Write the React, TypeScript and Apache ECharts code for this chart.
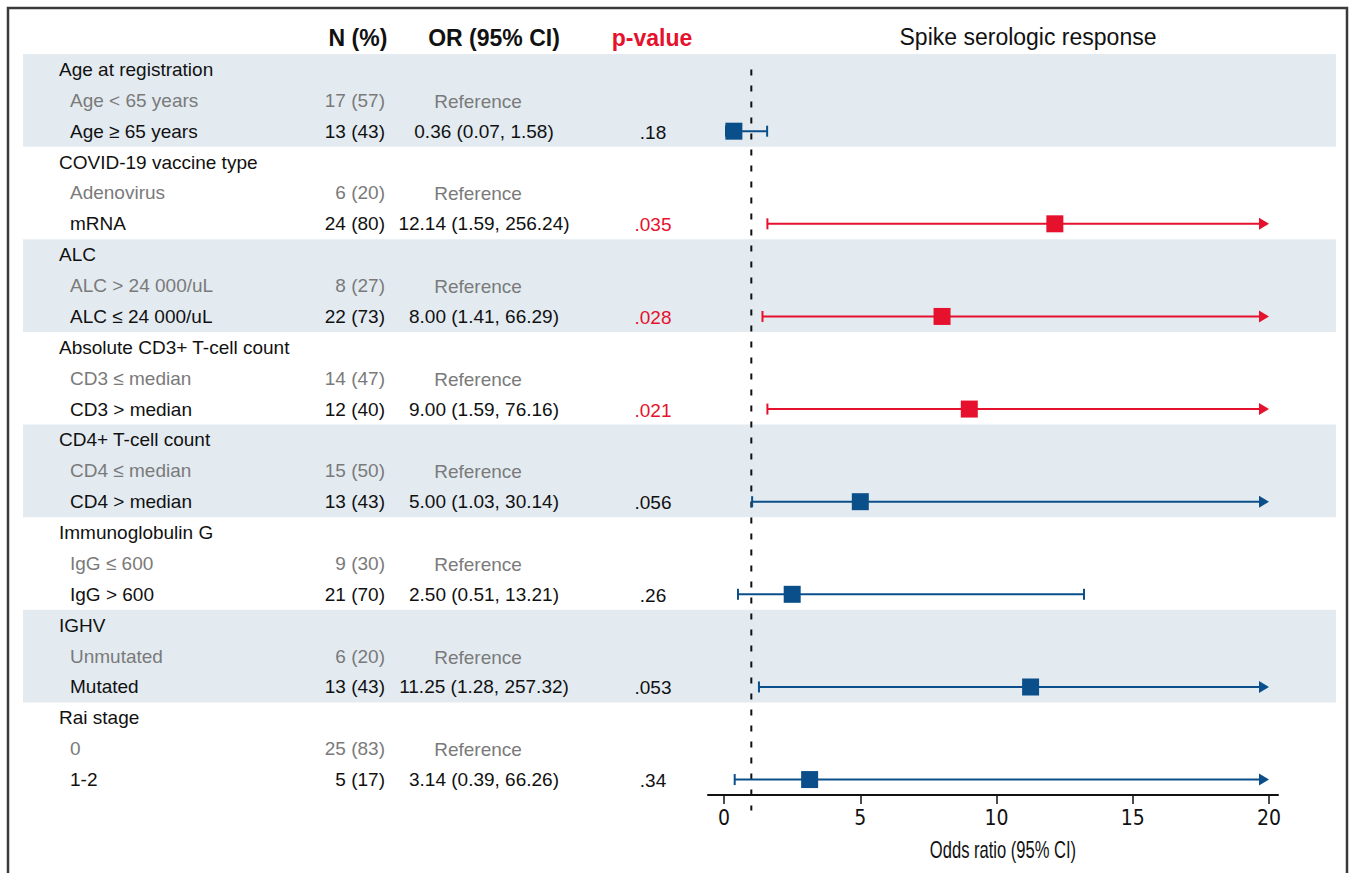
import React, { useEffect, useRef } from "react";
import * as echarts from "echarts";

// ---------- data ----------
const groupNames = [
  "Age at registration",
  "COVID-19 vaccine type",
  "ALC",
  "Absolute CD3+ T-cell count",
  "CD4+ T-cell count",
  "Immunoglobulin G",
  "IGHV",
  "Rai stage",
];
const refLabels = [
  "Age < 65 years",
  "Adenovirus",
  "ALC > 24 000/uL",
  "CD3 ≤ median",
  "CD4 ≤ median",
  "IgG ≤ 600",
  "Unmutated",
  "0",
];
const compLabels = [
  "Age ≥ 65 years",
  "mRNA",
  "ALC ≤ 24 000/uL",
  "CD3 > median",
  "CD4 > median",
  "IgG > 600",
  "Mutated",
  "1-2",
];
const refN = ["17 (57)", "6 (20)", "8 (27)", "14 (47)", "15 (50)", "9 (30)", "6 (20)", "25 (83)"];
const compN = ["13 (43)", "24 (80)", "22 (73)", "12 (40)", "13 (43)", "21 (70)", "13 (43)", "5 (17)"];
const orValues = [0.36, 12.14, 8.0, 9.0, 5.0, 2.5, 11.25, 3.14];
const ciLower = [0.07, 1.59, 1.41, 1.59, 1.03, 0.51, 1.28, 0.39];
const ciUpper = [1.58, 256.24, 66.29, 76.16, 30.14, 13.21, 257.32, 66.26];
const pValues = [0.18, 0.035, 0.028, 0.021, 0.056, 0.26, 0.053, 0.34];
const xTicks = [0, 5, 10, 15, 20];
const plotMax = 20;
const nullOR = 1;
const headers = { n: "N (%)", or: "OR (95% CI)", p: "p-value", title: "Spike serologic response" };
const axisTitle = "Odds ratio (95% CI)";

// ---------- styles ----------
const BLUE = "#0b4f8a";
const RED = "#e5112d";
const GRAY = "#7a7a7a";
const BLACK = "#111111";
const BAND = "#e3ebf1";
const SANS = '"Liberation Sans", Arial, Helvetica, sans-serif';
const COND = '"DejaVu Sans Condensed", "Liberation Sans Narrow", sans-serif';

type Row = {
  kind: "group" | "ref" | "comp";
  label: string;
  n?: string;
  or?: string;
  p?: string;
  sig?: boolean;
};

const fmtP = (p: number) => p.toString().replace(/^0/, "");
const rows: Row[] = [];
groupNames.forEach((g, i) => {
  rows.push({ kind: "group", label: g });
  rows.push({ kind: "ref", label: refLabels[i], n: refN[i], or: "Reference" });
  rows.push({
    kind: "comp",
    label: compLabels[i],
    n: compN[i],
    or: `${orValues[i].toFixed(2)} (${ciLower[i].toFixed(2)}, ${ciUpper[i].toFixed(2)})`,
    p: fmtP(pValues[i]),
    sig: pValues[i] < 0.05,
  });
});
const ROWS_PER_GROUP = 3;
const bandGroups = groupNames.map((_, i) => i).filter((i) => i % 2 === 0);

export default function App() {
  const ref = useRef<HTMLDivElement>(null);
  useEffect(() => {
    document.body.style.margin = "0";
    const chart = echarts.init(ref.current!, null, { renderer: "svg" });

    const txt = (text: string, x: number, y: number, align: string, color: string, font: string, extra: any = {}) => ({
      type: "text",
      x,
      y,
      ...extra,
      style: {
        text,
        fill: color,
        font,
        align,
        textAlign: align,
        verticalAlign: "middle",
        textVerticalAlign: "middle",
      },
    });

    const bodyFont = `19px ${SANS}`;
    const yMin = -0.5;
    const yMax = rows.length - 0.5;

    const option: any = {
      animation: false,
      backgroundColor: "#ffffff",
      grid: [
        { left: 23, right: 15, top: 54, height: 741 },
        { left: 708, right: 73, top: 54, height: 741 },
      ],
      xAxis: [
        { gridIndex: 0, type: "value", min: 0, max: 1, show: false },
        {
          gridIndex: 1,
          type: "value",
          min: -0.59,
          max: 20.33,
          axisLine: { show: true, onZero: false, lineStyle: { color: BLACK, width: 2 } },
          axisTick: { show: true, customValues: xTicks, length: 9, lineStyle: { color: BLACK, width: 1.5 } },
          axisLabel: { customValues: xTicks, color: BLACK, fontSize: 21, fontFamily: COND, margin: 12 },
          splitLine: { show: false },
        },
      ],
      yAxis: [
        { gridIndex: 0, type: "value", inverse: true, min: yMin, max: yMax, show: false, axisLine: { onZero: false } },
        { gridIndex: 1, type: "value", inverse: true, min: yMin, max: yMax, show: false, axisLine: { onZero: false } },
      ],
      graphic: [
        {
          type: "rect",
          shape: { x: 8, y: 8, width: 1339, height: 900 },
          style: { fill: "none", stroke: "#3a3a3a", lineWidth: 2.5 },
          z: 100,
        },
        txt(headers.n, 358, 38, "center", BLACK, `bold 23px ${SANS}`),
        txt(headers.or, 494, 38, "center", BLACK, `bold 23px ${SANS}`),
        txt(headers.p, 652, 38, "center", RED, `bold 23px ${SANS}`),
        txt(headers.title, 1028, 37, "center", BLACK, `23px ${SANS}`),
        txt(axisTitle, 1003, 850, "center", BLACK, `23px ${SANS}`, { scaleX: 0.72, originX: 0, originY: 0 }),
      ],
      series: [
        {
          type: "custom",
          name: "bands",
          xAxisIndex: 0,
          yAxisIndex: 0,
          z: 0,
          silent: true,
          data: bandGroups.map((g) => [0, g * ROWS_PER_GROUP - 0.5, (g + 1) * ROWS_PER_GROUP - 0.5]),
          encode: { x: 0, y: [1, 2] },
          renderItem: (params: any, api: any) => {
            const top = api.coord([0, api.value(1)])[1];
            const bottom = api.coord([0, api.value(2)])[1];
            const cs = params.coordSys;
            return {
              type: "rect",
              shape: { x: cs.x, y: top, width: cs.width, height: bottom - top },
              style: { fill: BAND },
            };
          },
        },
        {
          type: "custom",
          name: "table",
          xAxisIndex: 0,
          yAxisIndex: 0,
          z: 2,
          silent: true,
          data: rows.map((_, i) => [0, i]),
          encode: { x: 0, y: 1 },
          renderItem: (params: any, api: any) => {
            const r = rows[params.dataIndex];
            const y = api.coord([0, api.value(1)])[1];
            const children: any[] = [];
            if (r.kind === "group") {
              children.push(txt(r.label, 59, y, "left", BLACK, bodyFont));
            } else if (r.kind === "ref") {
              children.push(txt(r.label, 70, y, "left", GRAY, bodyFont));
              children.push(txt(r.n!, 385, y, "right", GRAY, bodyFont));
              children.push(txt(r.or!, 478, y + 1, "center", GRAY, bodyFont));
            } else {
              children.push(txt(r.label, 70, y, "left", BLACK, bodyFont));
              children.push(txt(r.n!, 385, y, "right", BLACK, bodyFont));
              children.push(txt(r.or!, 484, y, "center", BLACK, bodyFont));
              children.push(txt(r.p!, 653, y + 1, "center", r.sig ? RED : BLACK, bodyFont));
            }
            return { type: "group", children };
          },
        },
        {
          type: "line",
          name: "null line",
          xAxisIndex: 1,
          yAxisIndex: 1,
          z: 3,
          silent: true,
          clip: false,
          symbol: "none",
          data: [
            [nullOR, 0],
            [nullOR, rows.length],
          ],
          lineStyle: { color: BLACK, width: 2, type: [6, 10] },
        },
        {
          type: "custom",
          name: "forest",
          xAxisIndex: 1,
          yAxisIndex: 1,
          z: 5,
          silent: true,
          data: orValues.map((v, i) => [v, ciLower[i], ciUpper[i], i * ROWS_PER_GROUP + 2, pValues[i] < 0.05 ? 1 : 0]),
          encode: { x: 0, y: 3 },
          renderItem: (params: any, api: any) => {
            const or = api.value(0);
            const lo = api.value(1);
            const hi = api.value(2);
            const row = api.value(3);
            const color = api.value(4) ? RED : BLUE;
            const [xo, y] = api.coord([or, row]);
            const xl = api.coord([lo, row])[0];
            const clipped = hi > plotMax;
            const xh = api.coord([Math.min(hi, plotMax), row])[0];
            const ls = { stroke: color, lineWidth: 2 };
            const children: any[] = [
              { type: "line", shape: { x1: xl, y1: y, x2: clipped ? xh - 8 : xh, y2: y }, style: ls },
              { type: "line", shape: { x1: xl, y1: y - 5.5, x2: xl, y2: y + 5.5 }, style: ls },
            ];
            if (clipped) {
              children.push({
                type: "polygon",
                shape: { points: [[xh - 10, y - 6], [xh, y], [xh - 10, y + 6]] },
                style: { fill: color },
              });
            } else {
              children.push({ type: "line", shape: { x1: xh, y1: y - 5.5, x2: xh, y2: y + 5.5 }, style: ls });
            }
            children.push({
              type: "rect",
              shape: { x: xo - 8.5, y: y - 8.5, width: 17, height: 17 },
              style: { fill: color },
            });
            return { type: "group", children };
          },
        },
      ],
    };

    chart.setOption(option);
    return () => chart.dispose();
  }, []);
  return <div ref={ref} style={{ width: 1351, height: 873 }} />;
}
